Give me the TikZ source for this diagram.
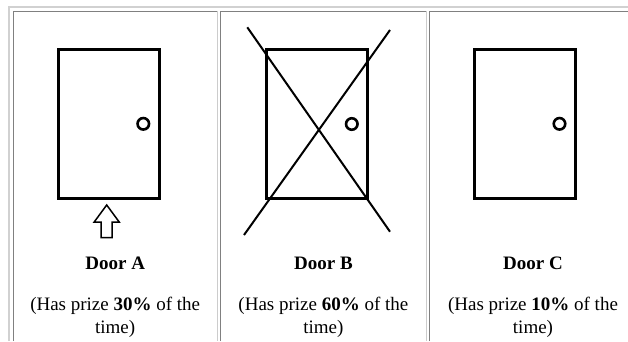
\documentclass[tikz,border=0pt]{standalone}
\usepackage{fontspec}
\setmainfont{Liberation Serif}
\begin{document}
\begin{tikzpicture}[x=1pt, y=-1pt, font=\fontsize{19}{23}\selectfont,
    door/.style={draw, line width=3pt, minimum width=101pt, minimum height=149pt, inner sep=0pt, outer sep=0pt},
    knob/.style={draw, circle, line width=2.6pt, minimum size=11.5pt, inner sep=0pt},
    title/.style={font=\fontsize{19}{23}\selectfont\bfseries, anchor=base, inner sep=0pt},
    caption/.style={align=center, anchor=north, inner sep=0pt}]
    \useasboundingbox (0,0) rectangle (628,341);
    \draw[black!18, line width=1.2pt] (9,341) -- (9,7) -- (628,7);
    \foreach \l/\r in {13/217.5, 220.7/426, 429/640} {
        \draw[black!50, line width=1pt] (\l,341) -- (\l,11) -- (\r,11);
        \draw[black!20, line width=1pt] (\r,11) -- (\r,341);
    }
    \node[door] (doorA) at (108.8,123.8) {};
    \node[door] (doorB) at (317.3,124) {};
    \node[door] (doorC) at (525,123.8) {};
    \node[knob] (knobA) at ([xshift=-16pt]doorA.east) {};
    \node[knob] (knobB) at ([xshift=-16pt]doorB.east) {};
    \node[knob] (knobC) at ([xshift=-16pt]doorC.east) {};
    \draw[line width=2pt] (247.3,27.3) -- (390,231.7);
    \draw[line width=2pt] (390,30) -- (244,235);
    \coordinate (tipA) at (106.7,205);
    \draw[line width=1.5pt, line join=miter] (tipA) -- ++(12.5,17) -- ++(-7,0) -- ++(0,15.5)
        -- ++(-11,0) -- ++(0,-15.5) -- ++(-7,0) -- cycle;
    \node[title] (titleA) at (115.2,269.5) {Door A};
    \node[title] (titleB) at (323.4,269.5) {Door B};
    \node[title] (titleC) at (533,269.5) {Door C};
    \node[caption] (capA) at (115.2,297) {(Has prize \textbf{30\%} of the\\time)};
    \node[caption] (capB) at (323.4,297) {(Has prize \textbf{60\%} of the\\time)};
    \node[caption] (capC) at (533,297) {(Has prize \textbf{10\%} of the\\time)};
\end{tikzpicture}
\end{document}
